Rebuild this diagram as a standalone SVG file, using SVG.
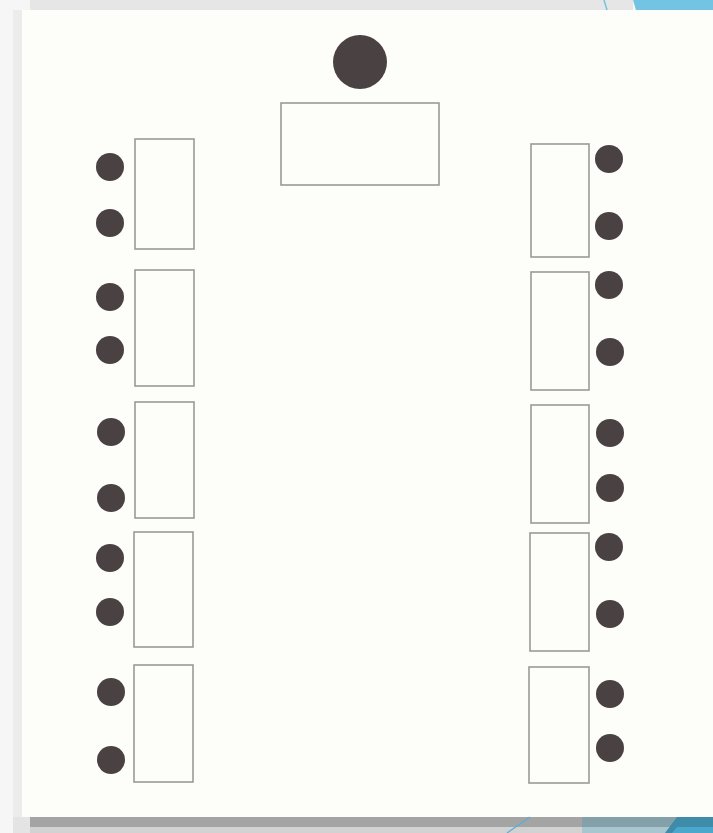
<svg xmlns="http://www.w3.org/2000/svg" width="713" height="833" viewBox="0 0 713 833">
<style>
.desk{fill:#fdfdfa;stroke:#9a9a9a;stroke-width:1.6}
.seat{fill:#4a4242}
</style>
<rect x="0" y="0" width="713" height="833" fill="#f6f6f6"/>
<rect x="22" y="10" width="691" height="807" fill="#fdfdf9"/>
<rect x="13" y="10" width="9" height="807" fill="#ececec"/>
<rect x="30" y="0" width="603" height="10" fill="#e6e6e6"/>
<polygon points="633,0 713,0 713,10 636,10" fill="#72c4e2"/>
<line x1="604" y1="0" x2="607" y2="10" stroke="#72c4e2" stroke-width="1.5"/>
<rect x="30" y="817" width="683" height="10" fill="#a4a4a4"/>
<rect x="30" y="827" width="683" height="6" fill="#d2d2d2"/>
<rect x="13" y="817" width="17" height="16" fill="#e4e4e4"/>
<rect x="582" y="817" width="95" height="10" fill="#84a0a8"/>
<rect x="582" y="827" width="90" height="6" fill="#a8c6cf"/>
<polygon points="677,817 713,817 713,833 665,833" fill="#3f8caa"/>
<polygon points="677,827 713,827 713,833 672,833" fill="#4aa8cc"/>
<line x1="530" y1="817" x2="507" y2="833" stroke="#5aaed0" stroke-width="1.2"/>

<g id="teacher">
<circle class="seat" cx="360" cy="62" r="27"/>
<rect class="desk" x="281" y="103" width="158" height="82"/>
</g>

<g id="left-desk-1">
<rect class="desk" x="135" y="139" width="59" height="110"/>
<circle class="seat" cx="110" cy="167" r="14"/>
<circle class="seat" cx="110" cy="223" r="14"/>
</g>
<g id="left-desk-2">
<rect class="desk" x="135" y="270" width="59" height="116"/>
<circle class="seat" cx="110" cy="297" r="14"/>
<circle class="seat" cx="110" cy="350" r="14"/>
</g>
<g id="left-desk-3">
<rect class="desk" x="135" y="402" width="59" height="116"/>
<circle class="seat" cx="111" cy="432" r="14"/>
<circle class="seat" cx="111" cy="498" r="14"/>
</g>
<g id="left-desk-4">
<rect class="desk" x="134" y="532" width="59" height="115"/>
<circle class="seat" cx="110" cy="558" r="14"/>
<circle class="seat" cx="110" cy="612" r="14"/>
</g>
<g id="left-desk-5">
<rect class="desk" x="134" y="665" width="59" height="117"/>
<circle class="seat" cx="111" cy="692" r="14"/>
<circle class="seat" cx="111" cy="760" r="14"/>
</g>

<g id="right-desk-1">
<rect class="desk" x="531" y="144" width="58" height="113"/>
<circle class="seat" cx="609" cy="159" r="14"/>
<circle class="seat" cx="609" cy="226" r="14"/>
</g>
<g id="right-desk-2">
<rect class="desk" x="531" y="272" width="58" height="118"/>
<circle class="seat" cx="609" cy="285" r="14"/>
<circle class="seat" cx="610" cy="352" r="14"/>
</g>
<g id="right-desk-3">
<rect class="desk" x="531" y="405" width="58" height="118"/>
<circle class="seat" cx="610" cy="433" r="14"/>
<circle class="seat" cx="610" cy="488" r="14"/>
</g>
<g id="right-desk-4">
<rect class="desk" x="530" y="533" width="59" height="118"/>
<circle class="seat" cx="609" cy="547" r="14"/>
<circle class="seat" cx="610" cy="614" r="14"/>
</g>
<g id="right-desk-5">
<rect class="desk" x="529" y="667" width="60" height="116"/>
<circle class="seat" cx="610" cy="694" r="14"/>
<circle class="seat" cx="610" cy="748" r="14"/>
</g>
</svg>
